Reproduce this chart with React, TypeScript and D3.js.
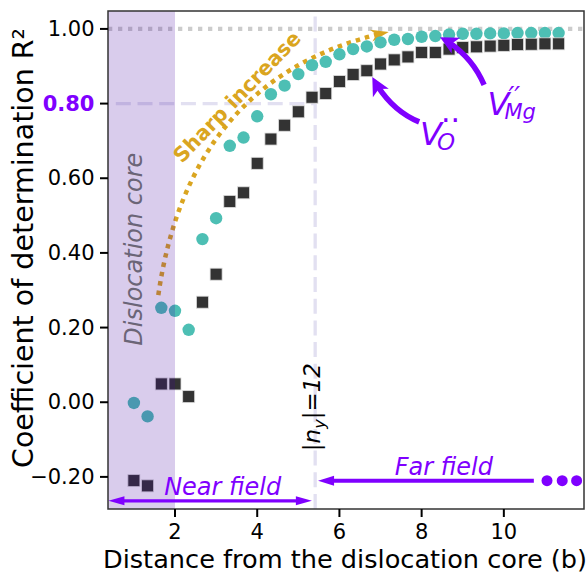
import React from 'react';
import * as d3 from 'd3';

// ---------- data ----------
const distance = [1.0, 1.333, 1.667, 2.0, 2.333, 2.667, 3.0, 3.333, 3.667, 4.0, 4.333, 4.667, 5.0, 5.333, 5.667, 6.0,
  6.333, 6.667, 7.0, 7.333, 7.667, 8.0, 8.333, 8.667, 9.0, 9.333, 9.667, 10.0, 10.333, 10.667, 11.0, 11.333];
// V''_Mg (teal circles)
const r2Mg = [-0.002, -0.038, 0.253, 0.245, 0.194, 0.437, 0.493, 0.687, 0.709, 0.766, 0.825, 0.848, 0.879, 0.903, 0.912, 0.932,
  0.946, 0.953, 0.964, 0.971, 0.973, 0.979, 0.981, 0.985, 0.987, 0.987, 0.988, 0.988, 0.989, 0.989, 0.989, 0.989];
// V_O (dark squares)
const r2O = [-0.21, -0.224, 0.049, 0.049, 0.015, 0.268, 0.343, 0.538, 0.561, 0.64, 0.705, 0.742, 0.778, 0.817, 0.827, 0.859,
  0.878, 0.888, 0.906, 0.917, 0.925, 0.937, 0.937, 0.946, 0.95, 0.952, 0.954, 0.956, 0.958, 0.959, 0.96, 0.96];

const yTicks = [-0.2, 0.0, 0.2, 0.4, 0.6, 0.8, 1.0];
const yTickLabels = ['\u22120.20', '0.00', '0.20', '0.40', '0.60', '0.80', '1.00'];
const xTicks = [2, 4, 6, 8, 10];
const xTickLabels = ['2', '4', '6', '8', '10'];

const xDomain = [0.37, 11.95];
const yDomain = [-0.286, 1.048];
const coreEdge = 2.0;
const fieldBoundary = 5.41;
const threshold = 0.8;
const perfectFit = 1.0;

// annotation anchors (data coordinates)
const sharpCurve = [[1.594, 0.287], [2.365, 0.877], [7.2, 0.992]];
const sharpLabel = [3.51, 0.818];
const arrowO = [[7.94, 0.751], [7.23, 0.783], [6.8, 0.871]];
const arrowMg = [[9.52, 0.85], [9.196, 0.934], [8.448, 0.978]];
const labelO = [7.96, 0.688];
const labelMg = [9.6, 0.77];
const nearArrow = [0.38, 5.33, -0.264];
const nearLabel = [3.16, -0.248];
const farArrow = [5.48, 10.73, -0.21];
const farLabel = [8.54, -0.195];
const farDots = [11.05, 11.42, 11.77];
const nyLabel = [5.53, -0.013];
const coreLabel = [1.2, 0.41];

const PURPLE = '#7F00FF';
const GOLD = '#DAA520';
const TEAL = '#4DBFB4';
const FONT = 'DejaVu Sans';

type P = [number, number];
const lerp = (a: P, b: P, t: number): P => [a[0] + (b[0] - a[0]) * t, a[1] + (b[1] - a[1]) * t];

function curvedArrow(p0: P, c: P, p2: P, headLen: number, headHalf: number, notch: number) {
  const bez = (t: number): P => lerp(lerp(p0, c, t), lerp(c, p2, t), t);
  let t = 1;
  while (t > 0.5) {
    const b = bez(t);
    if (Math.hypot(b[0] - p2[0], b[1] - p2[1]) >= headLen * 0.6) break;
    t -= 0.002;
  }
  const q0 = lerp(p0, c, t);
  const end = bez(t);
  const path = d3.path();
  path.moveTo(p0[0], p0[1]);
  path.quadraticCurveTo(q0[0], q0[1], end[0], end[1]);
  let dx = p2[0] - c[0], dy = p2[1] - c[1];
  const n = Math.hypot(dx, dy);
  dx /= n; dy /= n;
  const bx = p2[0] - dx * headLen, by = p2[1] - dy * headLen;
  const nx = -dy, ny = dx;
  const pts: P[] = [
    p2,
    [bx + nx * headHalf, by + ny * headHalf],
    [bx + dx * headLen * notch, by + dy * headLen * notch],
    [bx - nx * headHalf, by - ny * headHalf],
  ];
  return { d: path.toString(), head: pts.map((p) => p.join(',')).join(' ') };
}

function straightHead(tip: P, dirX: number, len: number, half: number) {
  const bx = tip[0] - dirX * len;
  return [tip, [bx, tip[1] - half], [bx, tip[1] + half]].map((p) => (p as P).join(',')).join(' ');
}

export default function App() {
  const W = 588, H = 576;
  const L = 108, R = 584, T = 11, B = 509;
  const x = d3.scaleLinear().domain(xDomain).range([L, R]);
  const y = d3.scaleLinear().domain(yDomain).range([B, T]);
  const px = (p: number[]): P => [x(p[0]), y(p[1])];

  const sharp = curvedArrow(px(sharpCurve[0]), px(sharpCurve[1]), px(sharpCurve[2]), 18, 6, 0.3);
  const aO = curvedArrow(px(arrowO[0]), px(arrowO[1]), px(arrowO[2]), 18, 9, 0.25);
  const aMg = curvedArrow(px(arrowMg[0]), px(arrowMg[1]), px(arrowMg[2]), 18, 9, 0.25);

  const sq = 12;
  const [slx, sly] = px(sharpLabel);
  const [olx, oly] = px(labelO);
  const [mlx, mly] = px(labelMg);
  const [nyx, nyy] = px(nyLabel);
  const [clx, cly] = px(coreLabel);

  const nearY = y(nearArrow[2]);
  const nearL = x(nearArrow[0]);
  const nearR = x(nearArrow[1]);
  const farY = y(farArrow[2]);
  const farL = x(farArrow[0]);
  const farR = x(farArrow[1]);

  return (
    <svg width={W} height={H} style={{ position: 'absolute', left: 0, top: 0, background: '#fff' }}
      fontFamily={FONT}>
      <defs>
        <clipPath id="plot"><rect x={L} y={T} width={R - L} height={B - T} /></clipPath>
      </defs>
      <g clipPath="url(#plot)">
        {/* reference lines */}
        <line x1={L} x2={R} y1={y(perfectFit)} y2={y(perfectFit)} stroke="#cccccc" strokeWidth={4.3} strokeDasharray="4.3 5.7" />
        <line x1={x(0.56)} x2={x(fieldBoundary)} y1={y(threshold)} y2={y(threshold)} stroke="#E2E0F1" strokeWidth={3.3} strokeDasharray="15 6.7" />
        <line x1={x(fieldBoundary)} x2={x(fieldBoundary)} y1={B} y2={y(1.04)} stroke="#E2E0F1" strokeWidth={3.3} strokeDasharray="15 6.7" />

        {/* sharp increase curve */}
        <path d={sharp.d} fill="none" stroke={GOLD} strokeWidth={4.5} strokeDasharray="4.5 5" />
        <polygon points={sharp.head} fill={GOLD} />

        {/* markers */}
        {distance.map((d, i) => (
          <circle key={'c' + i} cx={x(d)} cy={y(r2Mg[i])} r={6.2} fill={TEAL} />
        ))}
        {distance.map((d, i) => (
          <rect key={'s' + i} x={x(d) - sq / 2} y={y(r2O[i]) - sq / 2} width={sq} height={sq} fill="#333333" stroke="#dddddd" strokeWidth={0.8} />
        ))}

        {/* dislocation core shading */}
        <rect x={L} y={T} width={x(coreEdge) - L} height={B - T} fill="#3F00A0" fillOpacity={0.2} />

        <text transform={`translate(${clx},${cly}) rotate(-90)`} textAnchor="middle" fontSize={24} fontStyle="italic" fill="#6B6577">Dislocation core</text>

        <text transform={`translate(${slx},${sly}) rotate(-46)`} textAnchor="middle" dominantBaseline="central" fontSize={20.5} fontWeight="bold" fill={GOLD}>Sharp increase</text>

        <text transform={`translate(${nyx},${nyy}) rotate(-90)`} textAnchor="middle" fontSize={23} fontStyle="italic" fill="#000">
          |n<tspan fontSize={16} dy={5}>y</tspan><tspan dy={-5}>|=12</tspan>
        </text>

        {/* defect arrows */}
        <path d={aO.d} fill="none" stroke={PURPLE} strokeWidth={5.5} />
        <polygon points={aO.head} fill={PURPLE} />
        <path d={aMg.d} fill="none" stroke={PURPLE} strokeWidth={5.5} />
        <polygon points={aMg.head} fill={PURPLE} />

        <text x={olx} y={oly} fontSize={32} fontStyle="italic" fill={PURPLE}>V</text>
        <text x={olx + 17} y={oly + 5} fontSize={23} fontStyle="italic" fill={PURPLE}>O</text>
        <text x={olx + 21} y={oly - 14} fontSize={30} fill={PURPLE}>··</text>

        <text x={mlx} y={mly} fontSize={32} fontStyle="italic" fill={PURPLE}>V</text>
        <text x={mlx + 17} y={mly + 4} fontSize={21} fontStyle="italic" fill={PURPLE}>Mg</text>
        <text x={mlx + 21} y={mly - 9} fontSize={26} fontStyle="italic" fill={PURPLE}>′′</text>

        {/* near / far field */}
        <line x1={nearL + 12} x2={nearR - 12} y1={nearY} y2={nearY} stroke={PURPLE} strokeWidth={3.3} />
        <polygon points={straightHead([nearL, nearY], -1, 16, 4.5)} fill={PURPLE} />
        <polygon points={straightHead([nearR, nearY], 1, 16, 4.5)} fill={PURPLE} />
        <text x={x(nearLabel[0])} y={y(nearLabel[1])} textAnchor="middle" fontSize={24} fontStyle="italic" fill={PURPLE}>Near field</text>

        <line x1={farL + 12} x2={farR} y1={farY} y2={farY} stroke={PURPLE} strokeWidth={4} />
        <polygon points={straightHead([farL, farY], -1, 16, 5)} fill={PURPLE} />
        {farDots.map((d, i) => (
          <circle key={'fd' + i} cx={x(d)} cy={farY} r={5.5} fill={PURPLE} />
        ))}
        <text x={x(farLabel[0])} y={y(farLabel[1])} textAnchor="middle" fontSize={24} fontStyle="italic" fill={PURPLE}>Far field</text>
      </g>

      {/* frame */}
      <rect x={L} y={T} width={R - L} height={B - T} fill="none" stroke="#333" strokeWidth={1.5} />

      {/* y axis */}
      {yTicks.map((t, i) => (
        <g key={'yt' + i}>
          <line x1={L - 8} x2={L} y1={y(t)} y2={y(t)} stroke="#000" strokeWidth={2} />
          <text x={L - 13.5} y={y(t)} textAnchor="end" dominantBaseline="central" fontSize={21}
            fill={t === threshold ? PURPLE : '#000'} fontWeight={t === threshold ? 'bold' : 'normal'}>{yTickLabels[i]}</text>
        </g>
      ))}
      {/* x axis */}
      {xTicks.map((t, i) => (
        <g key={'xt' + i}>
          <line x1={x(t)} x2={x(t)} y1={B} y2={B + 8} stroke="#000" strokeWidth={2} />
          <text x={x(t)} y={B + 30} textAnchor="middle" fontSize={21} fill="#000">{xTickLabels[i]}</text>
        </g>
      ))}

      <text x={345} y={568} textAnchor="middle" fontSize={25.6} fill="#000">Distance from the dislocation core (b)</text>
      <text transform="translate(33,248) rotate(-90)" textAnchor="middle" fontSize={28.5} fill="#000">Coefficient of determination R²</text>
    </svg>
  );
}
